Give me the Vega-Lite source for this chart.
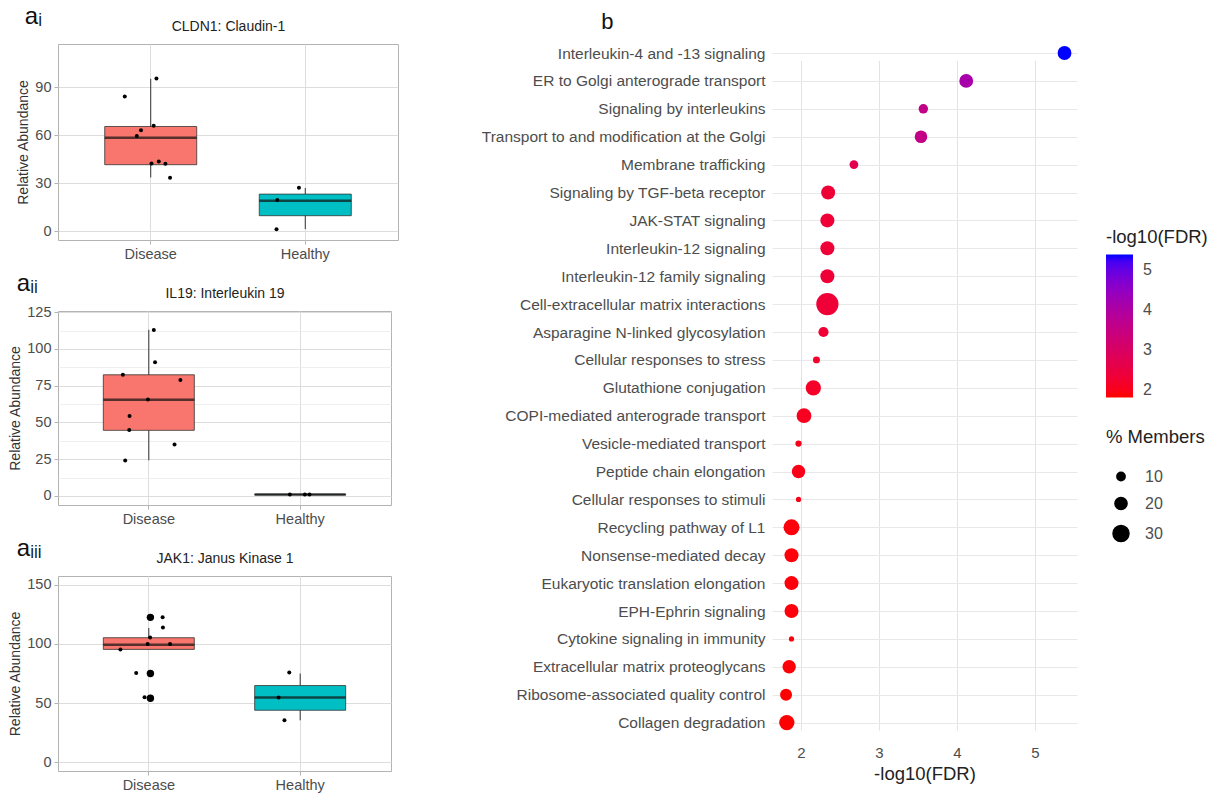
{
  "$schema": "https://vega.github.io/schema/vega-lite/v6.json",
  "padding": {"left": 8, "top": 4, "right": 5, "bottom": 5},
  "background": "white",
  "datasets": {
    "box": [
      {"gene": "CLDN1", "group": "Disease", "lower": 33.5, "q1": 41.5, "median": 58.3, "q3": 65.4, "upper": 95.2},
      {"gene": "CLDN1", "group": "Healthy", "lower": 1.2, "q1": 9.6, "median": 18.9, "q3": 23.1, "upper": 26.9},
      {"gene": "IL19", "group": "Disease", "lower": 24.2, "q1": 44.6, "median": 65.4, "q3": 82.4, "upper": 113},
      {"gene": "IL19", "group": "Healthy", "lower": 0.6, "q1": 0.7, "median": 0.9, "q3": 1.1, "upper": 1.2},
      {"gene": "JAK1", "group": "Disease", "lower": 95.4, "q1": 95.4, "median": 99.3, "q3": 105.3, "upper": 113.5},
      {"gene": "JAK1", "group": "Healthy", "lower": 35.4, "q1": 43.9, "median": 54.6, "q3": 64.8, "upper": 75}
    ],
    "pts": [
      {"gene": "CLDN1", "group": "Disease", "value": 84.2, "jitter": -0.168, "kind": "jitter"},
      {"gene": "CLDN1", "group": "Disease", "value": 95.4, "jitter": 0.037, "kind": "jitter"},
      {"gene": "CLDN1", "group": "Disease", "value": 63.1, "jitter": -0.063, "kind": "jitter"},
      {"gene": "CLDN1", "group": "Disease", "value": 59.4, "jitter": -0.09, "kind": "jitter"},
      {"gene": "CLDN1", "group": "Disease", "value": 65.8, "jitter": 0.019, "kind": "jitter"},
      {"gene": "CLDN1", "group": "Disease", "value": 42.3, "jitter": 0.005, "kind": "jitter"},
      {"gene": "CLDN1", "group": "Disease", "value": 43.5, "jitter": 0.052, "kind": "jitter"},
      {"gene": "CLDN1", "group": "Disease", "value": 42.1, "jitter": 0.095, "kind": "jitter"},
      {"gene": "CLDN1", "group": "Disease", "value": 33.3, "jitter": 0.125, "kind": "jitter"},
      {"gene": "CLDN1", "group": "Healthy", "value": 27.1, "jitter": -0.041, "kind": "jitter"},
      {"gene": "CLDN1", "group": "Healthy", "value": 19.4, "jitter": -0.181, "kind": "jitter"},
      {"gene": "CLDN1", "group": "Healthy", "value": 1.2, "jitter": -0.186, "kind": "jitter"},
      {"gene": "IL19", "group": "Disease", "value": 112.8, "jitter": 0.022, "kind": "jitter"},
      {"gene": "IL19", "group": "Disease", "value": 91, "jitter": 0.03, "kind": "jitter"},
      {"gene": "IL19", "group": "Disease", "value": 82.4, "jitter": -0.178, "kind": "jitter"},
      {"gene": "IL19", "group": "Disease", "value": 78.8, "jitter": 0.194, "kind": "jitter"},
      {"gene": "IL19", "group": "Disease", "value": 65.6, "jitter": -0.016, "kind": "jitter"},
      {"gene": "IL19", "group": "Disease", "value": 54.3, "jitter": -0.135, "kind": "jitter"},
      {"gene": "IL19", "group": "Disease", "value": 44.8, "jitter": -0.137, "kind": "jitter"},
      {"gene": "IL19", "group": "Disease", "value": 34.9, "jitter": 0.156, "kind": "jitter"},
      {"gene": "IL19", "group": "Disease", "value": 24, "jitter": -0.163, "kind": "jitter"},
      {"gene": "IL19", "group": "Healthy", "value": 1, "jitter": -0.077, "kind": "jitter"},
      {"gene": "IL19", "group": "Healthy", "value": 1, "jitter": 0.02, "kind": "jitter"},
      {"gene": "IL19", "group": "Healthy", "value": 1, "jitter": 0.05, "kind": "jitter"},
      {"gene": "JAK1", "group": "Disease", "value": 122.5, "jitter": 0.079, "kind": "jitter"},
      {"gene": "JAK1", "group": "Disease", "value": 114, "jitter": 0.081, "kind": "jitter"},
      {"gene": "JAK1", "group": "Disease", "value": 105.5, "jitter": -0.002, "kind": "jitter"},
      {"gene": "JAK1", "group": "Disease", "value": 99.9, "jitter": -0.018, "kind": "jitter"},
      {"gene": "JAK1", "group": "Disease", "value": 99.9, "jitter": 0.127, "kind": "jitter"},
      {"gene": "JAK1", "group": "Disease", "value": 95.4, "jitter": -0.194, "kind": "jitter"},
      {"gene": "JAK1", "group": "Disease", "value": 75.5, "jitter": -0.092, "kind": "jitter"},
      {"gene": "JAK1", "group": "Disease", "value": 54.9, "jitter": -0.038, "kind": "jitter"},
      {"gene": "JAK1", "group": "Disease", "value": 122.5, "jitter": 0, "kind": "outlier"},
      {"gene": "JAK1", "group": "Disease", "value": 75, "jitter": 0, "kind": "outlier"},
      {"gene": "JAK1", "group": "Disease", "value": 54, "jitter": 0, "kind": "outlier"},
      {"gene": "JAK1", "group": "Healthy", "value": 75.8, "jitter": -0.081, "kind": "jitter"},
      {"gene": "JAK1", "group": "Healthy", "value": 54.6, "jitter": -0.15, "kind": "jitter"},
      {"gene": "JAK1", "group": "Healthy", "value": 35.4, "jitter": -0.112, "kind": "jitter"}
    ],
    "path": [
      {"pathway": "Interleukin-4 and -13 signaling", "logFDR": 5.38, "members": 24},
      {"pathway": "ER to Golgi anterograde transport", "logFDR": 4.12, "members": 24},
      {"pathway": "Signaling by interleukins", "logFDR": 3.57, "members": 12.6},
      {"pathway": "Transport to and modification at the Golgi", "logFDR": 3.54, "members": 21},
      {"pathway": "Membrane trafficking", "logFDR": 2.68, "members": 11},
      {"pathway": "Signaling by TGF-beta receptor", "logFDR": 2.35, "members": 24.5},
      {"pathway": "JAK-STAT signaling", "logFDR": 2.34, "members": 24.5},
      {"pathway": "Interleukin-12 signaling", "logFDR": 2.34, "members": 24.5},
      {"pathway": "Interleukin-12 family signaling", "logFDR": 2.34, "members": 24.5},
      {"pathway": "Cell-extracellular matrix interactions", "logFDR": 2.34, "members": 46},
      {"pathway": "Asparagine N-linked glycosylation", "logFDR": 2.29, "members": 14.4},
      {"pathway": "Cellular responses to stress", "logFDR": 2.2, "members": 5.8},
      {"pathway": "Glutathione conjugation", "logFDR": 2.16, "members": 28},
      {"pathway": "COPI-mediated anterograde transport", "logFDR": 2.04, "members": 26.5},
      {"pathway": "Vesicle-mediated transport", "logFDR": 1.97, "members": 4},
      {"pathway": "Peptide chain elongation", "logFDR": 1.97, "members": 23},
      {"pathway": "Cellular responses to stimuli", "logFDR": 1.97, "members": 1.5},
      {"pathway": "Recycling pathway of L1", "logFDR": 1.88, "members": 30},
      {"pathway": "Nonsense-mediated decay", "logFDR": 1.88, "members": 24.5},
      {"pathway": "Eukaryotic translation elongation", "logFDR": 1.88, "members": 24.5},
      {"pathway": "EPH-Ephrin signaling", "logFDR": 1.88, "members": 24.5},
      {"pathway": "Cytokine signaling in immunity", "logFDR": 1.88, "members": 1.5},
      {"pathway": "Extracellular matrix proteoglycans", "logFDR": 1.85, "members": 23},
      {"pathway": "Ribosome-associated quality control", "logFDR": 1.81, "members": 19.5},
      {"pathway": "Collagen degradation", "logFDR": 1.82, "members": 28}
    ]
  },
  "config": {
    "font": "Liberation Sans",
    "view": {"stroke": "#B3B3B3"},
    "axis": {"labelFont": "Liberation Sans", "titleFont": "Liberation Sans", "labelColor": "#4D4D4D", "titleColor": "#333333", "titleFontWeight": "normal", "labelOverlap": false},
    "title": {"font": "Liberation Sans", "fontWeight": "normal", "color": "#111111"},
    "legend": {"labelFont": "Liberation Sans", "titleFont": "Liberation Sans"}
  },
  "spacing": 82,
  "hconcat": [
    {
      "spacing": 10,
      "align": "none",
      "vconcat": [
        {
          "width": 340, "height": 196,
          "title": {"text": "aᵢ", "anchor": "start", "fontSize": 24, "offset": -10, "dx": 8},
          "resolve": {"axis": {"x": "independent"}},
          "layer": [
            {
              "data": {"name": "box"},
              "transform": [{"filter": "datum.gene === 'CLDN1'"}],
              "mark": {"type": "rule", "color": "#333333", "strokeWidth": 1},
              "encoding": {
                "x": {"field": "group", "type": "nominal", "scale": {"paddingInner": 0, "paddingOuter": 0.1},
                      "axis": {"orient": "top", "title": "CLDN1: Claudin-1", "titleFontSize": 14, "titleColor": "#222222", "labels": false, "ticks": false, "domain": false, "grid": false, "titlePadding": 11}},
                "y": {"field": "lower", "type": "quantitative", "scale": {"domain": [-5.6, 117], "nice": false, "zero": false},
                      "axis": {"title": "Relative Abundance", "titleFontSize": 14, "labelFontSize": 14.5, "domain": false, "tickSize": 4, "labelPadding": 3, "labelOverlap": false,
                               "values": [0, 15, 30, 45, 60, 75, 90, 105],
                               "labelExpr": "datum.value % 30 === 0 ? datum.label : ''",
                               "tickColor": {"condition": {"test": "datum.value % 30 === 0", "value": "#B3B3B3"}, "value": "rgba(0,0,0,0)"},
                               "gridColor": {"condition": {"test": "datum.value % 30 === 0", "value": "#DDDDDD"}, "value": "#EBEBEB"},
                               "gridWidth": {"condition": {"test": "datum.value % 30 === 0", "value": 1}, "value": 0.8}}},
                "y2": {"field": "upper"}
              }
            },
            {
              "data": {"name": "box"},
              "transform": [{"filter": "datum.gene === 'CLDN1'"}],
              "mark": {"type": "bar", "size": 92, "stroke": "#333333", "strokeWidth": 0.8},
              "encoding": {
                "x": {"field": "group", "type": "nominal", "scale": {"paddingInner": 0, "paddingOuter": 0.1},
                      "axis": {"orient": "bottom", "title": null, "labelAngle": 0, "labelFontSize": 14.5, "labelPadding": 3, "domain": false, "tickColor": "#B3B3B3", "tickSize": 4, "grid": true, "gridColor": "#DDDDDD", "bandPosition": 0.5}},
                "y": {"field": "q1", "type": "quantitative"},
                "y2": {"field": "q3"},
                "color": {"field": "group", "type": "nominal", "scale": {"domain": ["Disease", "Healthy"], "range": ["#F8766D", "#00BFC4"]}, "legend": null}
              }
            },
            {
              "data": {"name": "box"},
              "transform": [{"filter": "datum.gene === 'CLDN1'"}],
              "mark": {"type": "tick", "size": 92, "thickness": 2.5, "color": "#111111"},
              "encoding": {
                "x": {"field": "group", "type": "nominal", "axis": null},
                "y": {"field": "median", "type": "quantitative"}
              }
            },
            {
              "data": {"name": "pts"},
              "transform": [{"filter": "datum.gene === 'CLDN1'"}],
              "mark": {"type": "circle", "color": "#000000", "opacity": 1},
              "encoding": {
                "x": {"field": "group", "type": "nominal", "axis": null},
                "xOffset": {"field": "jitter", "type": "quantitative", "scale": {"domain": [-0.5, 0.5]}},
                "y": {"field": "value", "type": "quantitative"},
                "size": {"field": "kind", "type": "nominal", "scale": {"domain": ["jitter", "outlier"], "range": [16, 55]}, "legend": null}
              }
            }
          ]
        },
        {
          "width": 333, "height": 194,
          "title": {"text": "aᵢᵢ", "anchor": "start", "fontSize": 24, "offset": -10, "dx": 8},
          "resolve": {"axis": {"x": "independent"}},
          "layer": [
            {
              "data": {"name": "box"},
              "transform": [{"filter": "datum.gene === 'IL19'"}],
              "mark": {"type": "rule", "color": "#333333", "strokeWidth": 1},
              "encoding": {
                "x": {"field": "group", "type": "nominal", "scale": {"paddingInner": 0, "paddingOuter": 0.1},
                      "axis": {"orient": "top", "title": "IL19: Interleukin 19", "titleFontSize": 14, "titleColor": "#222222", "labels": false, "ticks": false, "domain": false, "grid": false, "titlePadding": 11}},
                "y": {"field": "lower", "type": "quantitative", "scale": {"domain": [-6.2, 125.8], "nice": false, "zero": false},
                      "axis": {"title": "Relative Abundance", "titleFontSize": 14, "labelFontSize": 14.5, "domain": false, "tickSize": 4, "labelPadding": 3, "labelOverlap": false,
                               "values": [0, 12.5, 25, 37.5, 50, 62.5, 75, 87.5, 100, 112.5, 125],
                               "labelExpr": "datum.value % 25 === 0 ? datum.label : ''",
                               "tickColor": {"condition": {"test": "datum.value % 25 === 0", "value": "#B3B3B3"}, "value": "rgba(0,0,0,0)"},
                               "gridColor": {"condition": {"test": "datum.value % 25 === 0", "value": "#DDDDDD"}, "value": "#EBEBEB"},
                               "gridWidth": {"condition": {"test": "datum.value % 25 === 0", "value": 1}, "value": 0.8}}},
                "y2": {"field": "upper"}
              }
            },
            {
              "data": {"name": "box"},
              "transform": [{"filter": "datum.gene === 'IL19'"}],
              "mark": {"type": "bar", "size": 91, "stroke": "#333333", "strokeWidth": 0.8},
              "encoding": {
                "x": {"field": "group", "type": "nominal", "scale": {"paddingInner": 0, "paddingOuter": 0.1},
                      "axis": {"orient": "bottom", "title": null, "labelAngle": 0, "labelFontSize": 14.5, "labelPadding": 3, "domain": false, "tickColor": "#B3B3B3", "tickSize": 4, "grid": true, "gridColor": "#DDDDDD", "bandPosition": 0.5}},
                "y": {"field": "q1", "type": "quantitative",
                      "axis": {"title": "Relative Abundance", "titleFontSize": 14, "labelFontSize": 14.5, "domain": false, "tickSize": 4, "labelPadding": 3, "labelOverlap": false,
                               "values": [0, 12.5, 25, 37.5, 50, 62.5, 75, 87.5, 100, 112.5, 125],
                               "labelExpr": "datum.value % 25 === 0 ? datum.label : ''",
                               "tickColor": {"condition": {"test": "datum.value % 25 === 0", "value": "#B3B3B3"}, "value": "rgba(0,0,0,0)"},
                               "gridColor": {"condition": {"test": "datum.value % 25 === 0", "value": "#DDDDDD"}, "value": "#EBEBEB"},
                               "gridWidth": {"condition": {"test": "datum.value % 25 === 0", "value": 1}, "value": 0.8}}},
                "y2": {"field": "q3"},
                "color": {"field": "group", "type": "nominal", "scale": {"domain": ["Disease", "Healthy"], "range": ["#F8766D", "#00BFC4"]}, "legend": null}
              }
            },
            {
              "data": {"name": "box"},
              "transform": [{"filter": "datum.gene === 'IL19'"}],
              "mark": {"type": "tick", "size": 91, "thickness": 2.5, "color": "#111111"},
              "encoding": {
                "x": {"field": "group", "type": "nominal", "axis": null},
                "y": {"field": "median", "type": "quantitative",
                      "axis": {"title": "Relative Abundance", "titleFontSize": 14, "labelFontSize": 14.5, "domain": false, "tickSize": 4, "labelPadding": 3, "labelOverlap": false,
                               "values": [0, 12.5, 25, 37.5, 50, 62.5, 75, 87.5, 100, 112.5, 125],
                               "labelExpr": "datum.value % 25 === 0 ? datum.label : ''",
                               "tickColor": {"condition": {"test": "datum.value % 25 === 0", "value": "#B3B3B3"}, "value": "rgba(0,0,0,0)"},
                               "gridColor": {"condition": {"test": "datum.value % 25 === 0", "value": "#DDDDDD"}, "value": "#EBEBEB"},
                               "gridWidth": {"condition": {"test": "datum.value % 25 === 0", "value": 1}, "value": 0.8}}}
              }
            },
            {
              "data": {"name": "pts"},
              "transform": [{"filter": "datum.gene === 'IL19'"}],
              "mark": {"type": "circle", "color": "#000000", "opacity": 1},
              "encoding": {
                "x": {"field": "group", "type": "nominal", "axis": null},
                "xOffset": {"field": "jitter", "type": "quantitative", "scale": {"domain": [-0.5, 0.5]}},
                "y": {"field": "value", "type": "quantitative",
                      "axis": {"title": "Relative Abundance", "titleFontSize": 14, "labelFontSize": 14.5, "domain": false, "tickSize": 4, "labelPadding": 3, "labelOverlap": false,
                               "values": [0, 12.5, 25, 37.5, 50, 62.5, 75, 87.5, 100, 112.5, 125],
                               "labelExpr": "datum.value % 25 === 0 ? datum.label : ''",
                               "tickColor": {"condition": {"test": "datum.value % 25 === 0", "value": "#B3B3B3"}, "value": "rgba(0,0,0,0)"},
                               "gridColor": {"condition": {"test": "datum.value % 25 === 0", "value": "#DDDDDD"}, "value": "#EBEBEB"},
                               "gridWidth": {"condition": {"test": "datum.value % 25 === 0", "value": 1}, "value": 0.8}}},
                "size": {"field": "kind", "type": "nominal", "scale": {"domain": ["jitter", "outlier"], "range": [16, 55]}, "legend": null}
              }
            }
          ]
        },
        {
          "width": 333, "height": 195,
          "title": {"text": "aᵢᵢᵢ", "anchor": "start", "fontSize": 24, "offset": -10, "dx": 8},
          "resolve": {"axis": {"x": "independent"}},
          "layer": [
            {
              "data": {"name": "box"},
              "transform": [{"filter": "datum.gene === 'JAK1'"}],
              "mark": {"type": "rule", "color": "#333333", "strokeWidth": 1},
              "encoding": {
                "x": {"field": "group", "type": "nominal", "scale": {"paddingInner": 0, "paddingOuter": 0.1},
                      "axis": {"orient": "top", "title": "JAK1: Janus Kinase 1", "titleFontSize": 14, "titleColor": "#222222", "labels": false, "ticks": false, "domain": false, "grid": false, "titlePadding": 11}},
                "y": {"field": "lower", "type": "quantitative", "scale": {"domain": [-7.5, 157.5], "nice": false, "zero": false},
                      "axis": {"title": "Relative Abundance", "titleFontSize": 14, "labelFontSize": 14.5, "domain": false, "tickSize": 4, "labelPadding": 3, "labelOverlap": false,
                               "values": [0, 25, 50, 75, 100, 125, 150],
                               "labelExpr": "datum.value % 50 === 0 ? datum.label : ''",
                               "tickColor": {"condition": {"test": "datum.value % 50 === 0", "value": "#B3B3B3"}, "value": "rgba(0,0,0,0)"},
                               "gridColor": {"condition": {"test": "datum.value % 50 === 0", "value": "#DDDDDD"}, "value": "#EBEBEB"},
                               "gridWidth": {"condition": {"test": "datum.value % 50 === 0", "value": 1}, "value": 0.8}}},
                "y2": {"field": "upper"}
              }
            },
            {
              "data": {"name": "box"},
              "transform": [{"filter": "datum.gene === 'JAK1'"}],
              "mark": {"type": "bar", "size": 91, "stroke": "#333333", "strokeWidth": 0.8},
              "encoding": {
                "x": {"field": "group", "type": "nominal", "scale": {"paddingInner": 0, "paddingOuter": 0.1},
                      "axis": {"orient": "bottom", "title": null, "labelAngle": 0, "labelFontSize": 14.5, "labelPadding": 3, "domain": false, "tickColor": "#B3B3B3", "tickSize": 4, "grid": true, "gridColor": "#DDDDDD", "bandPosition": 0.5}},
                "y": {"field": "q1", "type": "quantitative"},
                "y2": {"field": "q3"},
                "color": {"field": "group", "type": "nominal", "scale": {"domain": ["Disease", "Healthy"], "range": ["#F8766D", "#00BFC4"]}, "legend": null}
              }
            },
            {
              "data": {"name": "box"},
              "transform": [{"filter": "datum.gene === 'JAK1'"}],
              "mark": {"type": "tick", "size": 91, "thickness": 2.5, "color": "#111111"},
              "encoding": {
                "x": {"field": "group", "type": "nominal", "axis": null},
                "y": {"field": "median", "type": "quantitative"}
              }
            },
            {
              "data": {"name": "pts"},
              "transform": [{"filter": "datum.gene === 'JAK1'"}],
              "mark": {"type": "circle", "color": "#000000", "opacity": 1},
              "encoding": {
                "x": {"field": "group", "type": "nominal", "axis": null},
                "xOffset": {"field": "jitter", "type": "quantitative", "scale": {"domain": [-0.5, 0.5]}},
                "y": {"field": "value", "type": "quantitative"},
                "size": {"field": "kind", "type": "nominal", "scale": {"domain": ["jitter", "outlier"], "range": [16, 55]}, "legend": null}
              }
            }
          ]
        }
      ]
    },
    {
      "width": 305, "height": 695,
      "view": {"stroke": null},
      "title": {"text": "b", "anchor": "start", "fontSize": 22, "dx": 120, "offset": 10},
      "data": {"name": "path"},
      "mark": {"type": "circle", "opacity": 1},
      "encoding": {
        "y": {"field": "pathway", "type": "nominal", "sort": null, "scale": {"padding": 0, "range": [9, 678.6]},
              "axis": {"title": null, "labelFontSize": 15.5, "labelColor": "#4D4D4D", "ticks": false, "domain": false, "grid": true, "gridColor": "#E8E8E8", "labelPadding": 7, "labelLimit": 400}},
        "x": {"field": "logFDR", "type": "quantitative", "scale": {"domain": [1.63, 5.54], "nice": false, "zero": false},
              "axis": {"values": [2, 2.5, 3, 3.5, 4, 4.5, 5, 5.5], "format": "d", "labelExpr": "datum.value % 1 === 0 ? datum.label : ''",
                       "title": "-log10(FDR)", "titleFontSize": 18.5, "titleColor": "#222222", "titlePadding": 4, "labelFontSize": 15, "ticks": false, "domain": false,
                       "gridColor": {"condition": {"test": "datum.value % 1 === 0", "value": "#E3E3E3"}, "value": "#ECECEC"}, "labelPadding": 6}},
        "color": {"field": "logFDR", "type": "quantitative", "scale": {"range": ["#FF0000", "#0000FF"], "interpolate": "lab"},
                  "legend": {"orient": "none", "legendX": 334, "legendY": 184, "title": "-log10(FDR)", "titleFontSize": 18.5, "titleFontWeight": "normal", "titleColor": "#222222", "labelFontSize": 16, "labelColor": "#4D4D4D",
                             "gradientLength": 143, "gradientThickness": 27, "values": [2, 3, 4, 5], "titlePadding": 8, "labelOffset": 10, "direction": "vertical"}},
        "size": {"field": "members", "type": "quantitative", "scale": {"domain": [0, 10, 20, 30, 40, 50], "range": [19.8, 68.9, 147.6, 256, 394, 562]},
                 "legend": {"orient": "none", "legendX": 334, "legendY": 384, "title": "% Members", "titleFontSize": 18.5, "titleFontWeight": "normal", "titleColor": "#222222", "labelFontSize": 16, "labelColor": "#4D4D4D",
                            "values": [10, 20, 30], "symbolFillColor": "#000000", "symbolStrokeColor": "#000000", "symbolType": "circle", "symbolOffset": 6, "padding": 0, "rowPadding": 9, "titlePadding": 22, "labelOffset": 15}}
      }
    }
  ]
}
